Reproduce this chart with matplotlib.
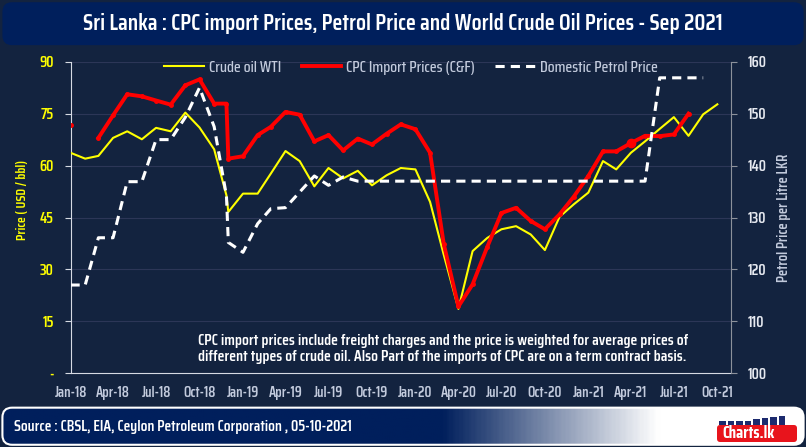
import matplotlib
matplotlib.use('Agg')
import matplotlib.pyplot as plt
import matplotlib.dates as mdates
import numpy as np
import pandas as pd
from matplotlib.patches import FancyBboxPatch, Rectangle
from matplotlib.lines import Line2D
from matplotlib.colors import LinearSegmentedColormap

plt.rcParams['font.family'] = ['Saira Condensed', 'DejaVu Sans']

# monthly points, plus the extra end-Nov-18 point where all three lines drop vertically
months = list(pd.date_range('2018-01-01', '2021-10-01', freq='MS'))
dates = months[:11] + [pd.Timestamp('2018-11-27')] + months[11:]

wti = [63.7, 62.0, 62.8, 68.0, 69.9, 67.6, 70.9, 69.9, 75.3, 71.0, 64.7,
       51.4,
       46.6, 51.9, 51.9, 57.7, 64.2, 61.3, 54.0, 59.3, 56.3, 58.5,
       54.3, 57.2, 59.3, 58.9, 49.5, 34.2, 18.6, 35.3, 39.1, 41.6,
       42.5, 40.1, 35.6, 45.2, 48.8, 52.2, 61.3, 58.9, 63.7, 67.0,
       70.6, 74.0, 68.6, 74.8, 77.7]

cpc = [71.8, np.nan, 68.0, 74.5, 80.6, 80.0, 78.8, 77.6, 83.2, 84.9, 77.9,
       77.9,
       62.0, 62.7, 68.8, 71.2, 75.5, 74.7, 67.0, 68.8, 64.4, 67.8,
       66.1, 69.2, 71.9, 70.5, 63.7, 37.3, 19.3, 25.7, 36.5, 46.3,
       47.8, 44.0, 41.6, 45.9, 51.0, 57.0, 64.1, 64.1, 66.5, 68.6,
       68.5, 69.0, 75.0, np.nan, np.nan]

petrol = [117.0, 117.0, 126.1, 126.1, 136.9, 136.9, 145.0, 145.0, 149.3, 155.0, 147.5,
          134.2,
          125.2, 123.3, 128.8, 131.7, 131.9, 134.9, 138.0, 136.2, 137.8, 137.0,
          137.0, 137.0, 137.0, 137.0, 137.0, 137.0, 137.0, 137.0, 137.0, 137.0,
          137.0, 137.0, 137.0, 137.0, 137.0, 137.0, 137.0, 137.0, 137.0, 137.0,
          156.9, 156.9, 156.9, 156.9, np.nan]

left_ticks = [0, 15, 30, 45, 60, 75, 90]
right_ticks = [100, 110, 120, 130, 140, 150, 160]

title = 'Sri Lanka : CPC import Prices, Petrol Price and World Crude Oil Prices - Sep 2021'
note = ('CPC import prices include freight charges and the price is weighted for average prices of\n'
        'different types of crude oil. Also Part of the imports of CPC are on a term contract basis.')
source = 'Source : CBSL, EIA, Ceylon Petroleum Corporation , 05-10-2021'

BG = '#13233f'
NAVY = '#001f5c'
LIGHT = '#c3cbdd'
W, H = 806, 447

fig = plt.figure(figsize=(W / 100, H / 100), dpi=100, facecolor=BG)

# title banner
fig.patches.append(FancyBboxPatch((0.003, 0.899), 0.994, 0.096,
                                  boxstyle='round,pad=0,rounding_size=0.012',
                                  mutation_aspect=W / H, transform=fig.transFigure,
                                  facecolor=NAVY, edgecolor='none', zorder=0))
fig.text(0.5, 0.9485, title, ha='center', va='center', color='white',
         fontsize=16.6, weight=600)

ax = fig.add_axes([0.0875, 0.1649, 0.8195, 0.697])
ax.set_facecolor(BG)
ax2 = ax.twinx()

ax.plot(dates, wti, color='#ffff00', lw=1.5, zorder=3)
ax.plot(dates, cpc, color='#ff0000', lw=2.8, marker='o', ms=2.5, zorder=4)
ax.plot(dates, cpc, color='#ff0000', lw=0, marker='o', ms=6, markevery=[40], zorder=4)
ax2.plot(dates, petrol, color='white', lw=2.2, dashes=(3.0, 2.0), zorder=5)

ax.set_ylim(0, 90)
ax.set_yticks(left_ticks)
ax.yaxis.set_major_formatter(plt.FuncFormatter(lambda v, p: '-' if v == 0 else f'{v:.0f}'))
ax2.set_ylim(100, 160)
ax2.set_yticks(right_ticks)
ax.set_xlim(pd.Timestamp('2018-01-01'), pd.Timestamp('2021-10-30'))
ax.xaxis.set_major_locator(mdates.MonthLocator(bymonth=[1, 4, 7, 10]))
ax.xaxis.set_major_formatter(mdates.DateFormatter('%b-%y'))

ax.yaxis.grid(True, color='#2c3657', lw=0.8)
ax.set_axisbelow(True)

for s in ['top', 'right']:
    ax.spines[s].set_visible(False)
for s in ['top', 'left', 'bottom']:
    ax2.spines[s].set_visible(False)
ax.spines['left'].set_color('#d6dae3')
ax.spines['bottom'].set_color('#d6dae3')
ax2.spines['right'].set_color('#8c919b')

ax.tick_params(axis='x', length=0, pad=9, labelsize=10.5, labelcolor=LIGHT)
ax.tick_params(axis='y', length=4, color='#d6dae3', pad=8, labelsize=11, labelcolor='#ffff00')
ax2.tick_params(axis='y', length=4, color='#8c919b', pad=8, labelsize=11, labelcolor='#e6e9f0')
for lab in ax.get_xticklabels() + ax.get_yticklabels() + ax2.get_yticklabels():
    lab.set_fontweight(600)

ax.set_ylabel('Price ( USD / bbl)', color='#ffff00', fontsize=9.8, weight=600)
ax.yaxis.set_label_coords(-0.063, 0.556)
ax2.set_ylabel('Petrol Price per Litre LKR', color=LIGHT, fontsize=10.5, weight=600)
ax2.yaxis.set_label_coords(1.069, 0.5)

handles = [Line2D([], [], color='#ffff00', lw=1.5),
           Line2D([], [], color='#ff0000', lw=2.8),
           Line2D([], [], color='white', lw=2.2, dashes=(3.0, 2.0))]
labels = ['Crude oil WTI', 'CPC Import Prices (C&F)', 'Domestic Petrol Price']
ax2.legend(handles, labels, loc='center', bbox_to_anchor=(0.5155, 0.98), ncol=3,
           frameon=False, handlelength=2.5, handletextpad=0.3,
           columnspacing=1.3, labelcolor=LIGHT, prop={'weight': 500, 'size': 11.4})

fig.text(198 / W, 1 - 349 / H, note, ha='left', va='center', color='white',
         fontsize=11.4, weight=600, linespacing=1.2)

# bottom banner with gradient
band = fig.add_axes([0.003, 0.005, 0.994, 0.083])
band.axis('off')
grad = LinearSegmentedColormap.from_list('band', [(0, NAVY), (0.55, NAVY), (0.82, '#ffffff'), (1, '#ffffff')])
im = band.imshow(np.linspace(0, 1, 400)[None, :], cmap=grad, aspect='auto', extent=[0, 1, 0, 1])
clip = FancyBboxPatch((0.003, 0.005), 0.994, 0.083, boxstyle='round,pad=0,rounding_size=0.012',
                      mutation_aspect=W / H, transform=fig.transFigure, facecolor='none')
im.set_clip_path(clip)
fig.patches.append(FancyBboxPatch((0.003, 0.005), 0.994, 0.083,
                                  boxstyle='round,pad=0,rounding_size=0.012',
                                  mutation_aspect=W / H, transform=fig.transFigure,
                                  facecolor='none', edgecolor='white', lw=1.5, zorder=3))
fig.text(14 / W, 1 - 427 / H, source, ha='left', va='center', color='white',
         fontsize=11.2, weight=600)

# charts.lk logo
fig.patches.append(FancyBboxPatch((717 / W, 1 - 442 / H), 80 / W, 17 / H,
                                  boxstyle='round,pad=0,rounding_size=0.004',
                                  mutation_aspect=W / H, transform=fig.transFigure,
                                  facecolor='#e8141c', edgecolor='none', zorder=4))
for i, h in enumerate([4, 4, 4, 4, 6, 7, 8, 9]):
    fig.patches.append(Rectangle(((719 + i * 8.5) / W, 1 - 425 / H), 6.5 / W, h / H,
                                 transform=fig.transFigure, facecolor='#1c2a6e', zorder=4))
fig.text(749 / W, 1 - 433.5 / H, 'Charts.lk', ha='center', va='center', color='white',
         fontsize=12, weight='bold', zorder=5)

fig.savefig('out.png', dpi=100, facecolor=BG)
